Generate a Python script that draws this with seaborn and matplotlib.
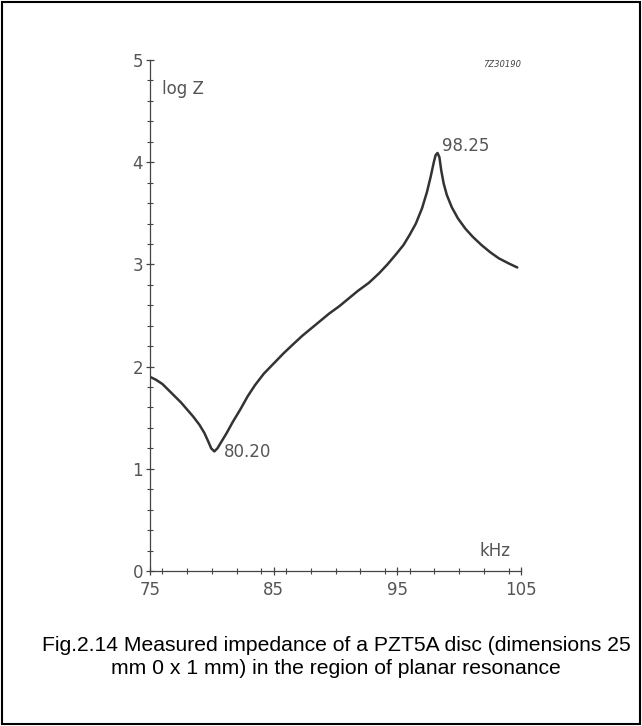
import matplotlib
matplotlib.use("Agg")
import matplotlib.pyplot as plt
import matplotlib.patches as mpatches
from matplotlib.ticker import MultipleLocator, FixedLocator
import seaborn as sns
import pandas as pd

# ---- data ----
freq_khz = [75.0, 75.5, 76.0, 76.5, 77.0, 77.5, 78.0, 78.5, 79.0, 79.4, 79.7,
            79.95, 80.2, 80.45, 80.8, 81.2, 81.7, 82.3, 82.9, 83.5, 84.2,
            85.0, 85.8, 86.5, 87.3, 88.0, 88.8, 89.5, 90.3, 91.0, 91.8, 92.7,
            93.5, 94.2, 94.9, 95.5, 96.0, 96.5, 97.0, 97.4, 97.7, 97.95, 98.1,
            98.25, 98.4, 98.55, 98.75, 99.0, 99.4, 99.9, 100.5, 101.1, 101.8,
            102.5, 103.2, 104.0, 104.7]
log_z = [1.90, 1.87, 1.83, 1.77, 1.71, 1.65, 1.58, 1.51, 1.43, 1.35, 1.27,
         1.20, 1.17, 1.20, 1.27, 1.35, 1.46, 1.58, 1.71, 1.82, 1.93,
         2.03, 2.13, 2.21, 2.30, 2.37, 2.45, 2.52, 2.59, 2.66, 2.74, 2.82,
         2.91, 3.00, 3.10, 3.19, 3.29, 3.40, 3.55, 3.71, 3.86, 4.00, 4.07,
         4.09, 4.05, 3.92, 3.79, 3.68, 3.56, 3.45, 3.35, 3.27, 3.19,
         3.12, 3.06, 3.01, 2.97]
x_tick_labels = [75, 85, 95, 105]
y_tick_labels = [0, 1, 2, 3, 4, 5]
min_label = "80.20"
max_label = "98.25"
caption = ("Fig.2.14 Measured impedance of a PZT5A disc (dimensions 25\n"
           "mm 0 x 1 mm) in the region of planar resonance")

df = pd.DataFrame({"f": freq_khz, "z": log_z})

sns.set_style("white")
narrow = ["Liberation Sans Narrow", "DejaVu Sans"]
plt.rcParams["font.family"] = narrow

W, H = 642, 726
fig = plt.figure(figsize=(W / 100, H / 100), dpi=100)
ax = fig.add_axes([150 / W, 1 - 571 / H, (521 - 150) / W, (571 - 60) / H])

sns.lineplot(data=df, x="f", y="z", ax=ax, sort=False, color="#333333",
             linewidth=1.8, estimator=None,
             solid_capstyle="round", solid_joinstyle="round")

ax.set_xlim(75, 105)
ax.set_ylim(0, 5)
ax.xaxis.set_major_locator(FixedLocator(x_tick_labels))
ax.xaxis.set_minor_locator(MultipleLocator(2))
ax.yaxis.set_major_locator(FixedLocator(y_tick_labels))
ax.yaxis.set_minor_locator(MultipleLocator(0.2))
ax.set_xticklabels([str(v) for v in x_tick_labels])
ax.set_yticklabels([str(v) for v in y_tick_labels])
ax.set_xlabel("")
ax.set_ylabel("")

for s in ["top", "right"]:
    ax.spines[s].set_visible(False)
for s in ["left", "bottom"]:
    ax.spines[s].set_color("#444444")
    ax.spines[s].set_linewidth(0.9)

ax.tick_params(which="both", bottom=True, left=True, top=False, right=False)
ax.tick_params(which="major", direction="inout", length=6, width=0.9,
               color="#444444", labelsize=12, labelcolor="#555555")
ax.tick_params(which="minor", direction="inout", length=4, width=0.8,
               color="#444444")
ax.tick_params(axis="x", which="major", pad=4)
ax.tick_params(axis="y", which="major", pad=2)

tc = "#555555"
ax.text(76.0, 4.72, "log Z", fontsize=12, color=tc, ha="left", va="center")
ax.text(102.9, 0.2, "kHz", fontsize=12, color=tc, ha="center", va="center")
ax.text(98.6, 4.16, max_label, fontsize=12, color=tc, ha="left", va="center")
ax.text(81.0, 1.16, min_label, fontsize=12, color=tc, ha="left", va="center")
ax.text(103.5, 4.96, "7Z30190", fontsize=6, color="#444444", ha="center",
        va="center", style="italic")

fig.text(336 / W, 1 - 657 / H, caption, ha="center", va="center",
         fontsize=15.2, family=["Liberation Sans", "DejaVu Sans"],
         color="black", linespacing=1.22)

fig.patches.append(mpatches.Rectangle((2 / W, 2 / H), (W - 4) / W, (H - 4) / H,
                                      transform=fig.transFigure, fill=False,
                                      edgecolor="black", linewidth=1.5))

fig.savefig("out.png", dpi=100)
